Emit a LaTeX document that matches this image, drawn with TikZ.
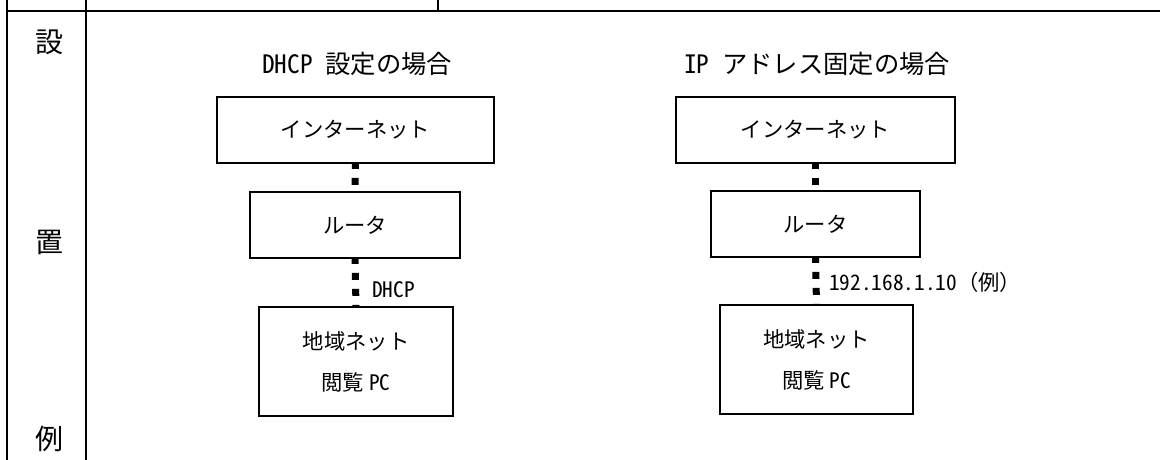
\documentclass[tikz,border=0pt]{standalone}
\usepackage{fontspec}
\setmainfont{Noto Sans CJK JP}
\newfontfamily\hw[RawFeature=+hwid]{Noto Sans CJK JP}
\begin{document}
\begin{tikzpicture}[x=0.75pt,y=-0.75pt,
  frame/.style={line width=1.7pt,line cap=rect},
  netbox/.style={draw,line width=1.3pt,inner sep=0pt,align=center,
     font=\fontsize{16}{30.75}\selectfont},
  dots/.style={line width=5.25pt,dash pattern=on 5.25pt off 6.75pt,dash phase=1.5pt},
  title/.style={inner sep=0pt,font=\fontsize{19}{22}\selectfont},
  lbl/.style={inner sep=0pt,anchor=west,font=\fontsize{16}{20}\selectfont},
  colchar/.style={inner sep=0pt,font=\fontsize{21}{24}\selectfont}]
\useasboundingbox (0,0) rectangle (1160,460);
% table frame
\draw[frame] (7,0) -- (7,460);
\draw[frame] (86,0) -- (86,460);
\draw[frame] (7,11) -- (1160,11);
\draw[frame] (438,0) -- (438,11);
% column label
\node[colchar] (c1) at (49,42) {設};
\node[colchar] (c2) at (49,242) {置};
\node[colchar] (c3) at (49,439) {例};
% titles
\node[title] (tL) at (357,64) {{\hw DHCP }設定の場合};
\node[title] (tR) at (817,64) {{\hw IP }アドレス固定の場合};
% left diagram
\node[netbox,minimum width=207.75pt,minimum height=49.5pt] (inetL) at (355.5,130) {インターネット};
\node[netbox,minimum width=157.5pt,minimum height=49.5pt] (rtrL) at (355,225) {ルータ};
\node[netbox,minimum width=145.5pt,minimum height=81.75pt] (pcL) at (356,361.5) {地域ネット\\閲覧 {\hw PC}};
% right diagram
\node[netbox,minimum width=209.25pt,minimum height=49.5pt] (inetR) at (815.5,130) {インターネット};
\node[netbox,minimum width=156.75pt,minimum height=49.5pt] (rtrR) at (815.5,224) {ルータ};
\node[netbox,minimum width=144.75pt,minimum height=81.75pt] (pcR) at (816.5,359.5) {地域ネット\\閲覧 {\hw PC}};
% connectors
\draw[dots] (inetL.south) -- (rtrL.north);
\draw[dots] (rtrL.south) -- (pcL.north);
\draw[dots] (inetR.south) -- (rtrR.north);
\draw[dots] (rtrR.south) -- (pcR.north);
% labels
\node[lbl] (dhcp) at (372,290) {\hw DHCP};
\node[lbl] (ip) at (829,282) {{\hw 192.168.1.10}（例）};
\end{tikzpicture}
\end{document}
